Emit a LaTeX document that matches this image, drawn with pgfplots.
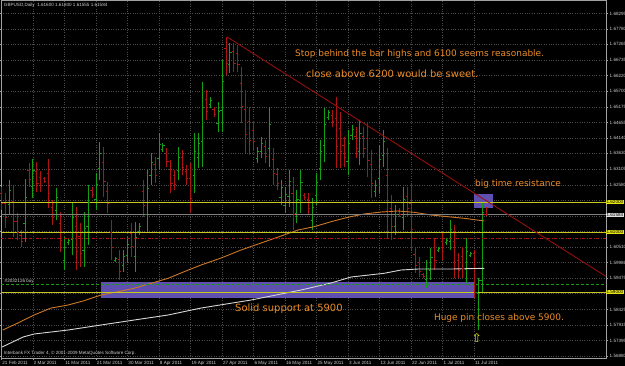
\documentclass[border=0pt]{standalone}
\usepackage{fontspec}
\setmainfont{Liberation Sans}
\newfontfamily\annfont{DejaVu Sans}
\usepackage{pgfplots}
\pgfplotsset{compat=1.18}
\usepackage{pgfplotstable}

\definecolor{upcol}{RGB}{20,160,20}
\definecolor{dncol}{RGB}{175,20,20}
\definecolor{trcol}{RGB}{150,15,15}
\definecolor{macol}{RGB}{205,120,40}
\definecolor{wmcol}{RGB}{215,215,215}
\definecolor{ylcol}{RGB}{200,200,30}
\definecolor{boxcol}{RGB}{95,80,175}
\definecolor{anncol}{RGB}{235,140,40}
\definecolor{gridcol}{RGB}{75,75,75}
\definecolor{axcol}{RGB}{160,160,160}
\definecolor{lblcol}{RGB}{205,205,205}

\pgfdeclareplotmark{otick}{\pgfpathmoveto{\pgfpoint{-1.7bp}{0pt}}\pgfpathlineto{\pgfpoint{0pt}{0pt}}\pgfusepathqstroke}
\pgfdeclareplotmark{ctick}{\pgfpathmoveto{\pgfpoint{0pt}{0pt}}\pgfpathlineto{\pgfpoint{1.7bp}{0pt}}\pgfusepathqstroke}

% bullish bars: x open high low close
\pgfplotstableread{
x o h l c
2 1.6193 1.6274 1.6158 1.6239
6 1.6131 1.6278 1.6068 1.6215
8 1.6253 1.6344 1.6214 1.6305
14 1.6173 1.6248 1.6141 1.6216
16 1.6007 1.6084 1.5974 1.6051
17 1.6065 1.6081 1.6058 1.6074
18 1.6077 1.6201 1.6024 1.6148
21 1.6039 1.6168 1.5984 1.6113
22 1.6118 1.6258 1.6058 1.6198
24 1.6211 1.6298 1.6174 1.6261
25 1.6312 1.6401 1.6274 1.6363
29 1.6006 1.6018 1.6001 1.6013
31 1.5990 1.6041 1.5968 1.6019
32 1.6024 1.6084 1.5998 1.6058
34 1.6018 1.6134 1.5968 1.6084
35 1.6103 1.6131 1.6091 1.6119
37 1.6161 1.6308 1.6098 1.6245
38 1.6290 1.6364 1.6258 1.6332
40 1.6345 1.6431 1.6308 1.6394
41 1.6377 1.6398 1.6368 1.6389
45 1.6307 1.6384 1.6274 1.6351
49 1.6291 1.6431 1.6231 1.6371
50 1.6349 1.6431 1.6314 1.6396
51 1.6403 1.6601 1.6318 1.6516
53 1.6525 1.6551 1.6514 1.6540
55 1.6464 1.6534 1.6434 1.6504
56 1.6506 1.6674 1.6434 1.6602
58 1.6661 1.6731 1.6631 1.6701
65 1.6347 1.6384 1.6331 1.6368
66 1.6369 1.6418 1.6348 1.6397
68 1.6378 1.6518 1.6318 1.6458
71 1.6216 1.6274 1.6191 1.6249
72 1.6190 1.6251 1.6164 1.6225
73 1.6221 1.6308 1.6184 1.6271
75 1.6164 1.6241 1.6131 1.6208
76 1.6207 1.6308 1.6164 1.6265
79 1.6140 1.6214 1.6108 1.6182
80 1.6223 1.6298 1.6191 1.6266
81 1.6314 1.6408 1.6274 1.6368
82 1.6388 1.6514 1.6334 1.6460
83 1.6484 1.6508 1.6474 1.6498
88 1.6336 1.6441 1.6291 1.6396
89 1.6423 1.6458 1.6408 1.6443
91 1.6369 1.6474 1.6324 1.6429
95 1.6235 1.6274 1.6218 1.6257
96 1.6279 1.6391 1.6231 1.6343
97 1.6355 1.6441 1.6318 1.6404
100 1.6121 1.6191 1.6091 1.6161
102 1.6151 1.6251 1.6108 1.6208
108 1.5942 1.6008 1.5914 1.5980
109 1.5973 1.6048 1.5941 1.6016
111 1.6039 1.6051 1.6034 1.6046
113 1.6065 1.6081 1.6058 1.6074
114 1.6071 1.6141 1.6041 1.6111
118 1.5976 1.6081 1.5931 1.6036
119 1.6023 1.6034 1.6018 1.6029
121 1.5900 1.5948 1.5774 1.5940
122 1.5940 1.6198 1.5898 1.6165
}\upt

% bearish bars: x open high low close
\pgfplotstableread{
x o h l c
0 1.6228 1.6251 1.6174 1.6197
1 1.6196 1.6231 1.6114 1.6149
3 1.6203 1.6254 1.6084 1.6135
4 1.6137 1.6164 1.6074 1.6101
5 1.6091 1.6108 1.6051 1.6068
7 1.6307 1.6331 1.6251 1.6275
9 1.6304 1.6334 1.6234 1.6264
10 1.6283 1.6304 1.6234 1.6255
11 1.6278 1.6284 1.6264 1.6270
12 1.6295 1.6344 1.6181 1.6230
13 1.6183 1.6208 1.6124 1.6149
15 1.6128 1.6168 1.6034 1.6074
19 1.6121 1.6184 1.5974 1.6037
20 1.6087 1.6131 1.5984 1.6028
23 1.6240 1.6251 1.6214 1.6225
26 1.6334 1.6384 1.6218 1.6268
27 1.6237 1.6268 1.6164 1.6195
28 1.6101 1.6141 1.6008 1.6048
30 1.6011 1.6041 1.5941 1.5971
33 1.6097 1.6131 1.6018 1.6052
36 1.6237 1.6274 1.6151 1.6188
39 1.6325 1.6351 1.6264 1.6290
42 1.6362 1.6381 1.6318 1.6337
43 1.6308 1.6341 1.6231 1.6264
44 1.6288 1.6308 1.6241 1.6261
46 1.6349 1.6374 1.6291 1.6316
47 1.6304 1.6324 1.6258 1.6278
48 1.6281 1.6331 1.6164 1.6214
52 1.6544 1.6574 1.6474 1.6504
54 1.6508 1.6518 1.6484 1.6494
57 1.6713 1.6751 1.6624 1.6662
59 1.6702 1.6731 1.6634 1.6663
60 1.6697 1.6724 1.6634 1.6661
61 1.6595 1.6651 1.6464 1.6520
62 1.6511 1.6574 1.6364 1.6427
63 1.6470 1.6518 1.6358 1.6406
64 1.6440 1.6468 1.6374 1.6402
67 1.6385 1.6408 1.6331 1.6354
69 1.6344 1.6381 1.6258 1.6295
70 1.6292 1.6314 1.6241 1.6263
74 1.6231 1.6284 1.6108 1.6161
77 1.6224 1.6231 1.6208 1.6215
78 1.6209 1.6231 1.6158 1.6180
84 1.6491 1.6508 1.6451 1.6468
85 1.6480 1.6551 1.6314 1.6385
86 1.6445 1.6501 1.6314 1.6370
87 1.6388 1.6418 1.6318 1.6348
90 1.6420 1.6451 1.6348 1.6379
92 1.6420 1.6451 1.6348 1.6379
93 1.6413 1.6468 1.6284 1.6339
94 1.6326 1.6374 1.6214 1.6262
98 1.6291 1.6381 1.6081 1.6171
99 1.6179 1.6224 1.6074 1.6119
101 1.6172 1.6181 1.6151 1.6160
103 1.6221 1.6251 1.6151 1.6181
104 1.6197 1.6264 1.6041 1.6108
105 1.6025 1.6051 1.5964 1.5990
106 1.5998 1.6018 1.5951 1.5971
107 1.5959 1.5964 1.5948 1.5953
110 1.6049 1.6081 1.5974 1.6006
112 1.6071 1.6098 1.6008 1.6035
115 1.6071 1.6124 1.5948 1.6001
116 1.6006 1.6031 1.5948 1.5973
117 1.6020 1.6051 1.5948 1.5979
120 1.6030 1.6041 1.5881 1.5900
123 1.61600 1.61840 1.61555 1.61584
}\dnt

\begin{document}
\begin{tikzpicture}
\fill[black] (-1bp,-8bp) rectangle (624bp,358bp);
\begin{axis}[
  at={(0,0)}, anchor=south west,
  scale only axis, width=605bp, height=358bp,
  xmin=-0.1, xmax=153.45, ymin=1.56810, ymax=1.68743,
  axis line style={draw=axcol, line width=0.8bp},
  grid=major, major grid style={dotted, draw=gridcol, line width=0.6bp},
  xtick={0,8,...,120},
  xticklabels={21 Feb 2011,2 Mar 2011,11 Mar 2011,21 Mar 2011,30 Mar 2011,8 Apr 2011,19 Apr 2011,27 Apr 2011,6 May 2011,16 May 2011,25 May 2011,3 Jun 2011,13 Jun 2011,22 Jun 2011,1 Jul 2011,11 Jul 2011},
  ytick={1.5688,1.57395,1.57915,1.58425,1.5895,1.59475,1.59986,1.6051,1.61025,1.6154,1.6206,1.6258,1.63105,1.6363,1.6414,1.64655,1.65175,1.657,1.6622,1.66735,1.67265,1.6778,1.68295},
  yticklabels={1.56880,1.57395,1.57915,1.58425,,1.59475,1.59986,1.60510,,,,1.62580,1.63105,1.63630,1.64140,1.64655,1.65175,1.65700,1.66220,1.66735,1.67265,1.67780,1.68295},
  yticklabel pos=right,
  tick align=outside,
  major tick length=2bp,
  tick style={draw=axcol, line width=0.6bp},
  ticklabel style={font=\fontsize{4.6}{5.5}\selectfont, text=lblcol},
  xticklabel style={anchor=north west, inner sep=0pt, xshift=0.8bp, yshift=-1.2bp},
  yticklabel style={anchor=west, inner sep=0pt, xshift=1.5bp},
  /pgf/number format/assume math mode=true,
  scaled y ticks=false,
  clip=false,
]
% support / resistance boxes
\fill[boxcol] (axis cs:25.3,1.58800) rectangle (axis cs:119.9,1.59353);
\fill[boxcol] (axis cs:119.9,1.61800) rectangle (axis cs:124.7,1.62266);

% bars: high-low ranges
\addplot[upcol, draw=none, forget plot, error bars/.cd, y dir=plus, y explicit, error mark=none,
  error bar style={draw=upcol, line width=0.9bp}]
  table[x=x, y=l, y error plus expr={\thisrow{h}-\thisrow{l}}] {\upt};
\addplot[dncol, draw=none, forget plot, error bars/.cd, y dir=plus, y explicit, error mark=none,
  error bar style={draw=dncol, line width=0.9bp}]
  table[x=x, y=l, y error plus expr={\thisrow{h}-\thisrow{l}}] {\dnt};
% open / close ticks
\addplot[upcol, only marks, mark=otick, mark options={line width=0.8bp}] table[x=x, y=o] {\upt};
\addplot[upcol, only marks, mark=ctick, mark options={line width=0.8bp}] table[x=x, y=c] {\upt};
\addplot[dncol, only marks, mark=otick, mark options={line width=0.8bp}] table[x=x, y=o] {\dnt};
\addplot[dncol, only marks, mark=ctick, mark options={line width=0.8bp}] table[x=x, y=c] {\dnt};

% moving averages
\addplot[macol, line width=0.9bp, mark=none] coordinates {
(0.36,1.57743) (4.16,1.57976) (8.30,1.58243) (12.61,1.58476) (16.93,1.58576) (20.99,1.58720)
(25.30,1.58910) (29.62,1.59020) (33.68,1.59133) (37.99,1.59300) (42.31,1.59466) (46.37,1.59686)
(50.69,1.59910) (55.76,1.60143) (60.84,1.60410) (65.91,1.60643) (70.99,1.60876) (75.23,1.61076)
(79.37,1.61186) (83.68,1.61353) (87.92,1.61500) (92.06,1.61610) (96.37,1.61676) (100.61,1.61710)
(104.75,1.61666) (109.06,1.61576) (113.30,1.61520) (117.44,1.61466) (122.59,1.61376)};
\addplot[wmcol, line width=0.9bp, mark=none] coordinates {
(0.18,1.57176) (5.51,1.57510) (8.30,1.57610) (16.93,1.57743) (25.30,1.57910) (33.68,1.58076)
(42.31,1.58243) (50.69,1.58476) (63.38,1.58743) (76.07,1.59076) (83.68,1.59310) (88.76,1.59510)
(97.13,1.59633) (101.45,1.59743) (105.76,1.59776) (114.14,1.59776) (122.59,1.59800)};

% horizontal lines
\addplot[ylcol, line width=0.9bp, mark=none] coordinates {(-0.1,1.6200) (153.45,1.6200)};
\addplot[ylcol, line width=0.9bp, mark=none] coordinates {(-0.1,1.6100) (153.45,1.6100)};
\addplot[ylcol, line width=0.9bp, mark=none] coordinates {(-0.1,1.5900) (153.45,1.5900)};
\addplot[gray, line width=0.6bp, mark=none] coordinates {(-0.1,1.61584) (153.45,1.61584)};
\addplot[dncol, line width=0.8bp, dash pattern=on 3bp off 1.5bp on 1bp off 1.5bp, mark=none] coordinates {(-0.1,1.6078) (153.45,1.6078)};
\addplot[upcol, line width=0.8bp, dash pattern=on 3bp off 2bp, mark=none] coordinates {(-0.1,1.5926) (153.45,1.5926)};

% trend line
\addplot[trcol, line width=0.9bp, mark=none] coordinates {(57.3,1.6751) (153.45,1.59529)};

% price-scale highlighted labels
\node[anchor=west, fill={rgb,255:red,230;green,230;blue,20}, text=black, inner sep=0.4bp, font=\fontsize{4.6}{5.5}\selectfont] at (axis cs:153.45,1.6200) {1.62000};
\node[anchor=west, fill={rgb,255:red,225;green,225;blue,225}, text=black, inner sep=0.4bp, font=\fontsize{4.6}{5.5}\selectfont] at (axis cs:153.45,1.61584) {1.61584};
\node[anchor=west, fill={rgb,255:red,230;green,230;blue,20}, text=black, inner sep=0.4bp, font=\fontsize{4.6}{5.5}\selectfont] at (axis cs:153.45,1.6100) {1.61000};
\node[anchor=west, fill={rgb,255:red,230;green,230;blue,20}, text=black, inner sep=0.4bp, font=\fontsize{4.6}{5.5}\selectfont] at (axis cs:153.45,1.5900) {1.59000};

% texts
\node[anchor=west, text=lblcol, inner sep=0pt, font=\fontsize{4.6}{5.5}\selectfont] at (axis cs:0.6,1.68576) {GBPUSD,Daily\ \ 1.61600 1.61840 1.61555 1.61584};
\node[anchor=west, text=lblcol, inner sep=0pt, font=\fontsize{4.6}{5.5}\selectfont] at (axis cs:0.6,1.5698) {Interbank FX Trader 4, \textcopyright{} 2001-2009 MetaQuotes Software Corp.};
\node[anchor=west, text=lblcol, inner sep=0pt, font=\fontsize{4.6}{5.5}\selectfont] at (axis cs:0.8,1.59353) {\#2032126 buy};

\node[anchor=west, text=anncol, inner sep=0pt, font=\annfont\fontsize{9}{10}\selectfont] at (axis cs:74.5,1.66943) {Stop behind the bar highs and 6100 seems reasonable.};
\node[anchor=west, text=anncol, inner sep=0pt, font=\annfont\fontsize{10}{11}\selectfont] at (axis cs:77.3,1.66276) {close above 6200 would be sweet.};
\node[anchor=west, text=anncol, inner sep=0pt, font=\annfont\fontsize{9}{10}\selectfont] at (axis cs:120.2,1.62593) {big time resistance};
\node[anchor=west, text=anncol, inner sep=0pt, font=\annfont\fontsize{9}{10}\selectfont] at (axis cs:109.75,1.58143) {Huge pin closes above 5900.};
\node[anchor=west, text=anncol, inner sep=0pt, font=\annfont\fontsize{10}{11}\selectfont] at (axis cs:59.3,1.58443) {Solid support at 5900};
\node[text={rgb,255:red,235;green,235;blue,20}, inner sep=0pt, font=\annfont\fontsize{12}{13}\selectfont] at (axis cs:120.7,1.57493) {⇧};
\end{axis}
\pgfresetboundingbox
\useasboundingbox (-1bp,-8bp) rectangle (624bp,358bp);
\end{tikzpicture}
\end{document}
